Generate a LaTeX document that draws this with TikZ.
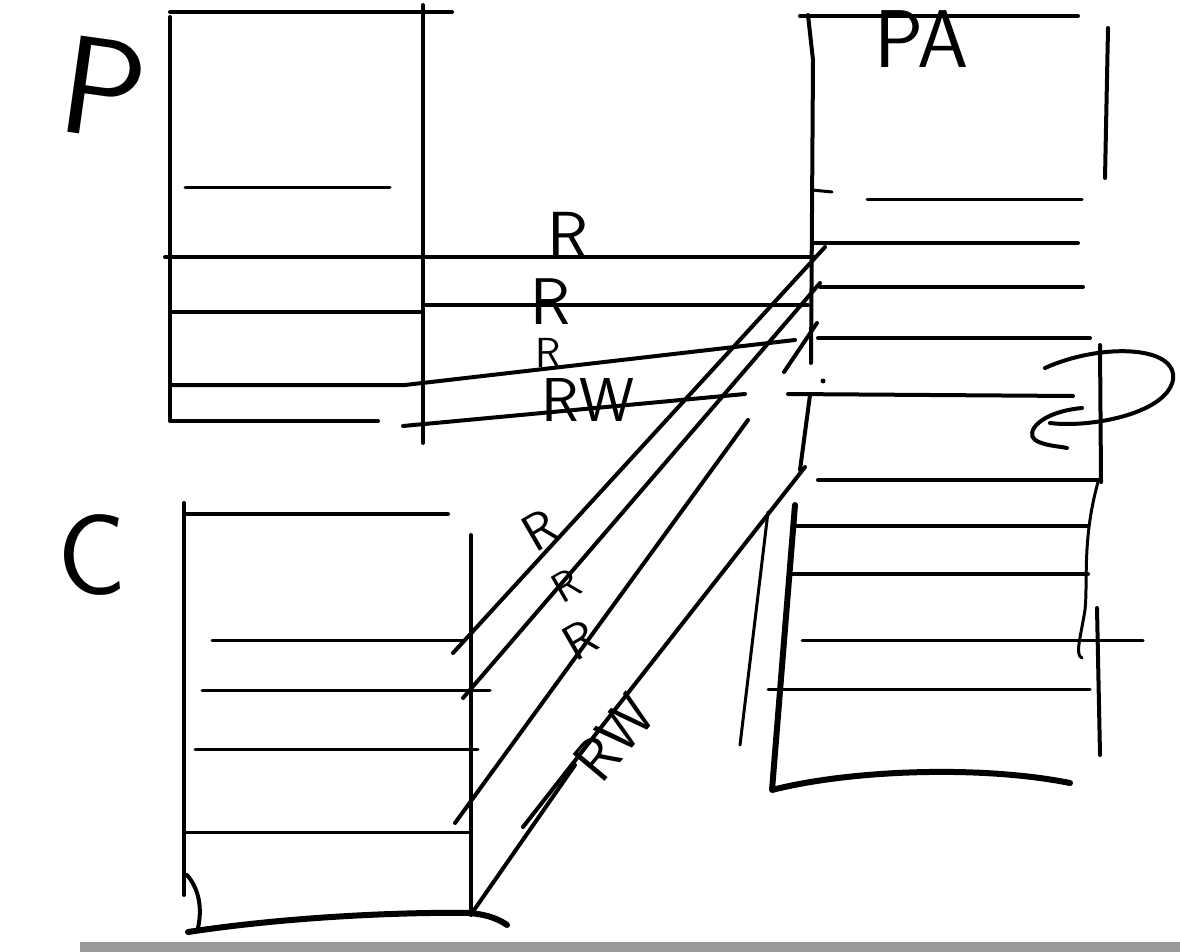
\documentclass[tikz,border=0pt]{standalone}
\usepackage{tikz}
\begin{document}
\begin{tikzpicture}[x=1pt,y=-1pt,line cap=round,line join=round,
  ink/.style={line width=4pt},
  thinink/.style={line width=3pt},
  heavy/.style={line width=6pt},
  hand/.style={inner sep=0pt,font=\sffamily}]
\useasboundingbox (0,0) rectangle (1180,952);
% bar at the bottom
\fill[black!40] (80,942) rectangle (1180,952);
% box P
\draw[ink] (170,12) -- (452,12);
\draw[ink] (170,17) -- (170,420);
\draw[ink] (423,5) -- (423,443);
\draw[thinink] (185,188) -- (390,188);
\draw[ink] (165,257) -- (815,257);
\draw[ink] (170,312) -- (420,312);
\draw[ink] (423,305) -- (808,305);
\draw[ink] (172,385) -- (405,385) -- (795,340);
\draw[ink] (170,421) -- (378,421);
\draw[ink] (403,426) -- (745,394);
\node[hand,font=\sffamily\fontsize{140}{140}\selectfont,rotate=-8] (lblP) at (104,88) {P};
% box PA
\draw[ink] (808,15) -- (813,60) -- (811,363);
\draw[ink] (800,16) -- (1078,16);
\draw[ink] (1108,28) -- (1105,178);
\draw[thinink] (812,190) -- (832,192);
\draw[thinink] (867,200) -- (1082,200);
\draw[ink] (813,243) -- (1078,243);
\draw[ink] (820,287) -- (1083,287);
\draw[ink] (818,338) -- (1090,338);
\draw[ink] (788,394) -- (1073,396);
\fill (823,381) circle (2.5);
\draw[ink] (810,395) -- (800,470);
\draw[ink] (818,480) -- (1100,480);
\draw[ink] (797,526) -- (1088,526);
\draw[ink] (790,574) -- (1088,574);
\draw[thinink] (802,640) -- (1143,640);
\draw[thinink] (768,689) -- (1090,689);
\draw[ink] (1100,345) -- (1101,482);
\draw[thinink] (1098,482) .. controls (1082,540) and (1088,580) .. (1085,610) .. controls (1080,640) and (1075,655) .. (1082,658);
\draw[ink] (1097,608) -- (1100,755);
\draw[ink] (1045,368) .. controls (1100,343) and (1178,345) .. (1173,380) .. controls (1166,414) and (1090,428) .. (1050,423);
\draw[ink] (1082,408) .. controls (1040,412) and (1025,432) .. (1035,440) .. controls (1045,446) and (1058,446) .. (1067,448);
\node[hand,font=\sffamily\fontsize{82}{82}\selectfont,anchor=base] (lblPA) at (922,68) {PA};
% lower right box
\draw[heavy] (795,505) -- (772,790) .. controls (850,770) and (980,765) .. (1070,783);
\draw[thinink] (768,512) -- (740,745);
% crossing lines
\draw[ink] (453,653) -- (825,247);
\draw[ink] (463,698) -- (820,283);
\draw[ink] (455,823) -- (748,420);
\draw[ink] (784,372) -- (817,323);
\draw[ink] (523,827) -- (805,467);
\draw[ink] (472,913) -- (575,765);
% box C
\draw[ink] (184,503) -- (184,895);
\draw[ink] (185,514) -- (448,514);
\draw[ink] (471,535) -- (471,915);
\draw[thinink] (212,640) -- (465,640);
\draw[thinink] (202,690) -- (490,690);
\draw[thinink] (195,749) -- (478,749);
\draw[thinink] (185,832) -- (470,832);
\draw[heavy] (188,932) .. controls (300,915) and (420,912) .. (470,913) .. controls (490,915) and (500,920) .. (507,925);
\draw[ink] (187,875) .. controls (200,890) and (202,910) .. (198,928);
\node[hand,font=\sffamily\fontsize{115}{115}\selectfont] (lblC) at (92,555) {C};
% labels on the lines
\node[hand,font=\sffamily\fontsize{68}{68}\selectfont] (rA) at (568,236) {R};
\node[hand,font=\sffamily\fontsize{66}{66}\selectfont] (rB) at (550,302) {R};
\node[hand,font=\sffamily\fontsize{42}{42}\selectfont] (rC) at (548,353) {R};
\node[hand,font=\sffamily\fontsize{62}{62}\selectfont] (rwA) at (588,400) {RW};
\node[hand,font=\sffamily\fontsize{52}{52}\selectfont,rotate=30] (rD) at (540,530) {R};
\node[hand,font=\sffamily\fontsize{42}{42}\selectfont,rotate=30] (rE) at (566,586) {R};
\node[hand,font=\sffamily\fontsize{50}{50}\selectfont,rotate=30] (rF) at (580,640) {R};
\node[hand,font=\sffamily\fontsize{60}{60}\selectfont,rotate=50] (rwB) at (614,738) {RW};
\end{tikzpicture}
\end{document}
